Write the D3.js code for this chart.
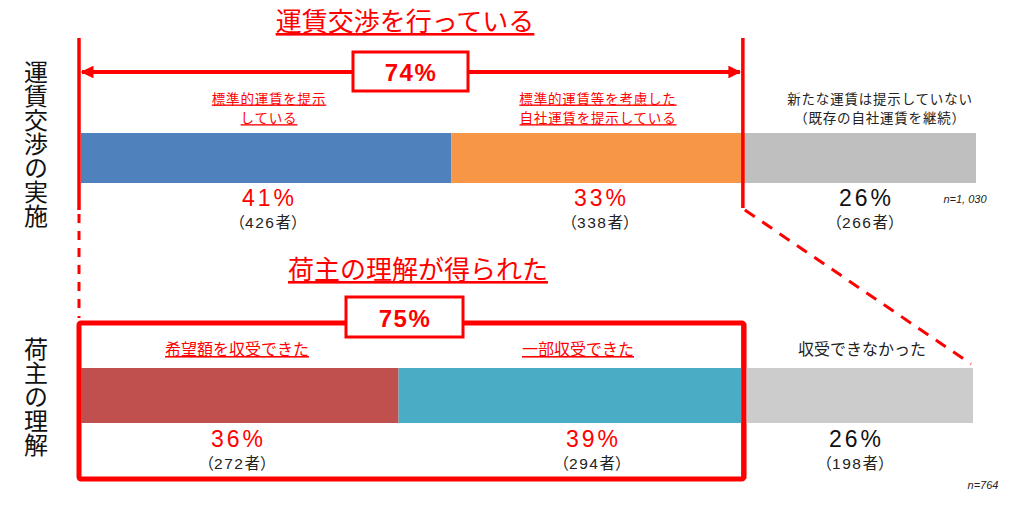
<!DOCTYPE html>
<html><head><meta charset="utf-8">
<script src="https://cdn.jsdelivr.net/npm/d3@7/dist/d3.min.js"></script>
<style>body{margin:0;background:#fff;}svg{display:block;font-family:"Noto Sans CJK JP","Noto Sans",sans-serif;}</style>
</head><body>
<script>
// Data
const topCategories = ["標準的運賃を提示している","標準的運賃等を考慮した自社運賃を提示している","新たな運賃は提示していない（既存の自社運賃を継続）"];
const topLabelLines = [["標準的運賃を提示","している"],["標準的運賃等を考慮した","自社運賃を提示している"],["新たな運賃は提示していない","（既存の自社運賃を継続）"]];
const topCounts = [426, 338, 266];
const topPercents = ["41%","33%","26%"];
const topN = "n=1, 030";
const topTitle = "運賃交渉を行っている";
const topTotal = "74%";
const topRowLabel = "運賃交渉の実施";

const botCategories = ["希望額を収受できた","一部収受できた","収受できなかった"];
const botCounts = [272, 294, 198];
const botPercents = ["36%","39%","26%"];
const botN = "n=764";
const botTitle = "荷主の理解が得られた";
const botTotal = "75%";
const botRowLabel = "荷主の理解";

const W = 1024, H = 515;
const RED = "#FF0000";
const svg = d3.select("body").append("svg").attr("width", W).attr("height", H);

function stack(counts){ let c=0; return counts.map(v=>{const s={x0:c,x1:c+v,v}; c+=v; return s;}); }

function pctText(x, y, t, red){
  svg.append("text").attr("x", x).attr("y", y).attr("text-anchor","middle")
    .attr("font-size",23).attr("letter-spacing",3).attr("font-family","Liberation Sans, Arial, sans-serif")
    .attr("fill", red?RED:"#111").text(t);
}
function cntText(x, y, n){
  const t = svg.append("text").attr("x", x).attr("y", y).attr("text-anchor","middle")
    .attr("font-size",15.5).attr("fill","#222");
  t.append("tspan").text("（");
  t.append("tspan").attr("font-family","Liberation Sans, Arial, sans-serif").attr("letter-spacing",1.5).text(n);
  t.append("tspan").text("者）");
}

// ---------- Top section ----------
const topStack = stack(topCounts);
const xTop = d3.scaleLinear().domain([0, d3.sum(topCounts)]).range([81, 976]);
const topColors = ["#4F81BD","#F79646","#BFBFBF"];
const topEmph = [true,true,false];
const topY = 133, topH = 50;

svg.append("g").selectAll("rect").data(topStack).join("rect")
  .attr("x", d=>xTop(d.x0)).attr("width", d=>xTop(d.x1)-xTop(d.x0))
  .attr("y", topY).attr("height", topH).attr("fill", (d,i)=>topColors[i]);

const topCenters = [269, 598, 880];
const topPctCenters = [268, 600, 865];
topLabelLines.forEach((lines,i)=>{
  lines.forEach((ln,j)=>{
    svg.append("text").attr("x", topCenters[i]).attr("y", 103.5 + j*19.7)
      .attr("text-anchor","middle").attr("font-size",13.5).attr("letter-spacing",0.8)
      .attr("fill", topEmph[i]?RED:"#222")
      .attr("text-decoration", topEmph[i]?"underline":null)
      .text(ln);
  });
});
topPercents.forEach((p,i)=>{
  pctText(topPctCenters[i]+1.5, 206, p, topEmph[i]);
  cntText(topPctCenters[i], 228, topCounts[i]);
});
svg.append("text").attr("x", 965).attr("y", 203).attr("text-anchor","middle")
  .attr("font-size",11).attr("font-style","italic").attr("font-family","Liberation Sans, Arial, sans-serif")
  .attr("fill","#222").text(topN);

// title
svg.append("text").attr("x", 405).attr("y", 31).attr("text-anchor","middle")
  .attr("font-size",26).attr("fill",RED).attr("text-decoration","underline").text(topTitle);

// vertical lines
const leftX = 79, rightX = xTop(topCounts[0]+topCounts[1]) - 2;
svg.append("line").attr("x1",leftX).attr("x2",leftX).attr("y1",38).attr("y2",210)
  .attr("stroke",RED).attr("stroke-width",3.5);
svg.append("line").attr("x1",leftX).attr("x2",leftX).attr("y1",214).attr("y2",318)
  .attr("stroke",RED).attr("stroke-width",3).attr("stroke-dasharray","9,8");
svg.append("line").attr("x1",rightX).attr("x2",rightX).attr("y1",38).attr("y2",208)
  .attr("stroke",RED).attr("stroke-width",3.5);
svg.append("line").attr("x1",rightX+2).attr("x2",xTop.range()[1]-5).attr("y1",210).attr("y2",364)
  .attr("stroke",RED).attr("stroke-width",3).attr("stroke-dasharray","12,9");

// arrow
const defs = svg.append("defs");
defs.append("marker").attr("id","ah").attr("viewBox","0 0 10 10").attr("refX",9).attr("refY",5)
  .attr("markerWidth",3.2).attr("markerHeight",3.2).attr("orient","auto-start-reverse")
  .append("path").attr("d","M0,0 L10,5 L0,10 z").attr("fill",RED);
svg.append("line").attr("x1",leftX+3).attr("x2",rightX-3).attr("y1",72).attr("y2",72)
  .attr("stroke",RED).attr("stroke-width",4)
  .attr("marker-start","url(#ah)").attr("marker-end","url(#ah)");
svg.append("rect").attr("x",353).attr("y",52).attr("width",115).attr("height",39)
  .attr("fill","#fff").attr("stroke",RED).attr("stroke-width",3);
svg.append("text").attr("x",411).attr("y",81).attr("text-anchor","middle")
  .attr("font-size",24).attr("font-weight","bold").attr("letter-spacing",1.5).attr("font-family","Liberation Sans, Arial, sans-serif")
  .attr("fill",RED).text(topTotal);

// row label
svg.append("text").attr("x",36).attr("y",60).attr("font-size",24)
  .style("writing-mode","vertical-rl").attr("fill","#111").text(topRowLabel);

// ---------- Bottom section ----------
const botStack = stack(botCounts);
const xBot = d3.scaleLinear().domain([0, d3.sum(botCounts)]).range([81, 973]);
const botColors = ["#C0504D","#4BACC6","#CCCCCC"];
const botEmph = [true,true,false];
const botY = 368, botH = 55;

// red frame
const frameX1 = 79, frameX2 = xBot(botCounts[0]+botCounts[1]) + 2;
svg.append("rect").attr("x",frameX1).attr("y",323).attr("width",frameX2-frameX1).attr("height",156)
  .attr("rx",2).attr("fill","none").attr("stroke",RED).attr("stroke-width",5);

svg.append("g").selectAll("rect").data(botStack).join("rect")
  .attr("x", d=>xBot(d.x0)).attr("width", d=>xBot(d.x1)-xBot(d.x0))
  .attr("y", botY).attr("height", botH).attr("fill", (d,i)=>botColors[i]);
// redraw frame right edge over bars
svg.append("line").attr("x1",frameX2).attr("x2",frameX2).attr("y1",323).attr("y2",479)
  .attr("stroke",RED).attr("stroke-width",5);

const botLabelCenters = [237, 578, 862];
const botPctCenters = [237, 592, 855];
botCategories.forEach((c,i)=>{
  svg.append("text").attr("x",botLabelCenters[i]).attr("y",355).attr("text-anchor","middle")
    .attr("font-size",16).attr("fill", botEmph[i]?RED:"#222")
    .attr("text-decoration", botEmph[i]?"underline":null).text(c);
});
botPercents.forEach((p,i)=>{
  pctText(botPctCenters[i]+1.5, 447, p, botEmph[i]);
  cntText(botPctCenters[i], 469, botCounts[i]);
});
svg.append("text").attr("x", 983).attr("y", 489).attr("text-anchor","middle")
  .attr("font-size",11).attr("font-style","italic").attr("font-family","Liberation Sans, Arial, sans-serif")
  .attr("fill","#222").text(botN);

svg.append("text").attr("x", 418).attr("y", 279).attr("text-anchor","middle")
  .attr("font-size",26).attr("fill",RED).attr("text-decoration","underline").text(botTitle);

svg.append("rect").attr("x",346).attr("y",297).attr("width",117).attr("height",40)
  .attr("fill","#fff").attr("stroke",RED).attr("stroke-width",3);
svg.append("text").attr("x",405).attr("y",327).attr("text-anchor","middle")
  .attr("font-size",24).attr("font-weight","bold").attr("letter-spacing",1.5).attr("font-family","Liberation Sans, Arial, sans-serif")
  .attr("fill",RED).text(botTotal);

svg.append("text").attr("x",36).attr("y",337).attr("font-size",24)
  .style("writing-mode","vertical-rl").attr("fill","#111").text(botRowLabel);
</script>
</body></html>
